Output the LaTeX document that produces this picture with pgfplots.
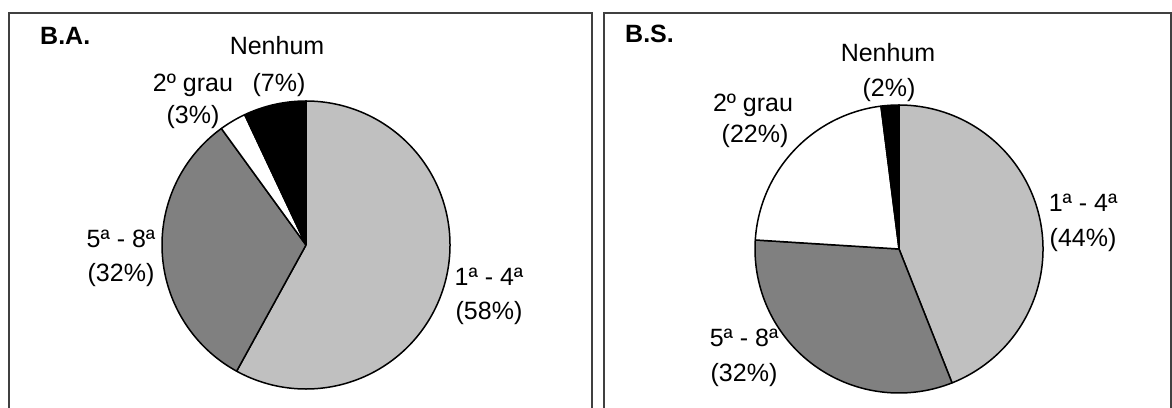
\documentclass[border=0pt]{standalone}
\usepackage{fontspec}
\setmainfont{Liberation Sans}
\usepackage{pgfplots}
\pgfplotsset{compat=1.18}

% one framed panel per pie; axis units are 1bp so the pies stay round
\pgfplotsset{
  panel/.style={scale only axis, xtick=\empty, ytick=\empty, clip=false,
    axis line style={draw=black!75, line width=1.4bp},
    ymin=-23, ymax=394, height=417bp},
}
\tikzset{lbl/.style={anchor=base, inner sep=0pt, font=\fontsize{25bp}{30bp}\selectfont}}

% \slice{cx}{cy}{from %}{to %}{fill}: clockwise from 12 o'clock
\newcommand{\slice}[5]{%
  \addplot[draw=black, line width=1.5bp, fill=#5, line join=round,
    domain=#3-1:#4+1, samples=401]
  ({#1+144*cos(90-3.6*min(max(x,#3),#4))*(x>#3-0.5)*(x<#4+0.5)},
   {#2+144*sin(90-3.6*min(max(x,#3),#4))*(x>#3-0.5)*(x<#4+0.5)});
}

\definecolor{light}{HTML}{C0C0C0}
\definecolor{mid}{HTML}{808080}

\begin{document}
\begin{tikzpicture}[x=1bp, y=1bp]
  \useasboundingbox (0,0) rectangle (1172,407);

  % B.A.: 58, 32, 3, 7
  \begin{axis}[panel, at={(9,-23)}, anchor=south west, width=583bp, xmin=9, xmax=592]
    \slice{306}{162}{0}{58}{light}
    \slice{306}{162}{58}{90}{mid}
    \slice{306}{162}{90}{93}{white}
    \slice{306}{162}{93}{100}{black}
    \node[anchor=base west, inner sep=0pt, font=\fontsize{25bp}{30bp}\selectfont\bfseries] at (axis cs:40,362) {B.A.};
    \node[lbl] at (axis cs:277,352) {Nenhum};
    \node[lbl] at (axis cs:193,315.5) {2º grau};
    \node[lbl] at (axis cs:279,315.5) {(7\%)};
    \node[lbl] at (axis cs:193,283) {(3\%)};
    \node[lbl] at (axis cs:121,159) {5ª - 8ª};
    \node[lbl] at (axis cs:121,126) {(32\%)};
    \node[lbl] at (axis cs:489,122) {1ª - 4ª};
    \node[lbl] at (axis cs:489,88) {(58\%)};
  \end{axis}

  % B.S.: 44, 32, 22, 2
  \begin{axis}[panel, at={(604,-23)}, anchor=south west, width=567bp, xmin=604, xmax=1171]
    \slice{899}{158}{0}{44}{light}
    \slice{899}{158}{44}{76}{mid}
    \slice{899}{158}{76}{98}{white}
    \slice{899}{158}{98}{100}{black}
    \node[anchor=base west, inner sep=0pt, font=\fontsize{25bp}{30bp}\selectfont\bfseries] at (axis cs:625,364) {B.S.};
    \node[lbl] at (axis cs:888,345.5) {Nenhum};
    \node[lbl] at (axis cs:889,310.5) {(2\%)};
    \node[lbl] at (axis cs:753,295.5) {2º grau};
    \node[lbl] at (axis cs:755,264) {(22\%)};
    \node[lbl] at (axis cs:1083,195.5) {1ª - 4ª};
    \node[lbl] at (axis cs:1083,160.5) {(44\%)};
    \node[lbl] at (axis cs:744,60.5) {5ª - 8ª};
    \node[lbl] at (axis cs:744,25.5) {(32\%)};
  \end{axis}
\end{tikzpicture}
\end{document}
